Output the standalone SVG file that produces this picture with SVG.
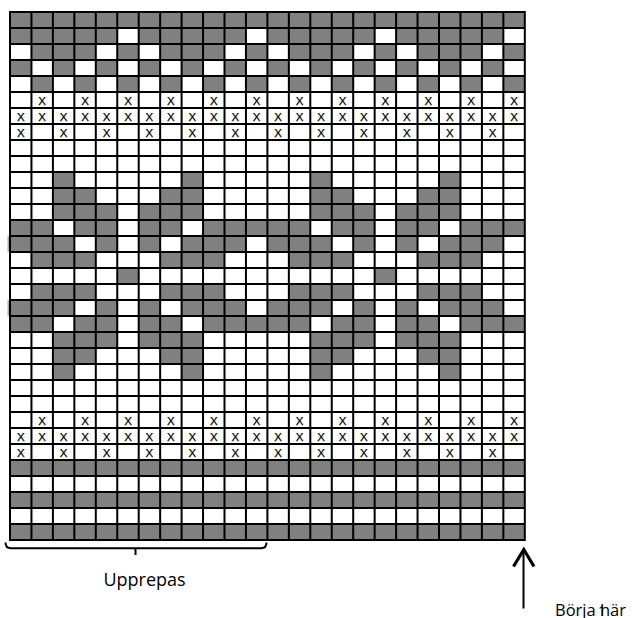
<svg xmlns="http://www.w3.org/2000/svg" width="633" height="618" viewBox="0 0 633 618">
<style>
.g{fill:#808080}
.grid{fill:none;stroke:#000;stroke-width:2}
.x{font-family:"Liberation Sans",Arial,sans-serif;font-size:11.5px;text-anchor:middle;fill:#000;stroke:#000;stroke-width:0.25}
.lbl{font-family:"Open Sans","Noto Sans",sans-serif;fill:#000}
.ln{fill:none;stroke:#000}
</style>
<rect width="633" height="618" fill="#fff"/>
<g id="chart">
<g id="cells" class="g" transform="matrix(21.45 0 0 16 10 12)">
<rect x="0" y="0" width="24" height="1"/>
<rect x="0" y="1" width="5" height="1"/><rect x="6" y="1" width="5" height="1"/><rect x="12" y="1" width="5" height="1"/><rect x="18" y="1" width="5" height="1"/>
<rect x="1" y="2" width="3" height="1"/><rect x="5" y="2" width="1" height="1"/><rect x="7" y="2" width="3" height="1"/><rect x="11" y="2" width="1" height="1"/><rect x="13" y="2" width="3" height="1"/><rect x="17" y="2" width="1" height="1"/><rect x="19" y="2" width="3" height="1"/><rect x="23" y="2" width="1" height="1"/>
<rect x="0" y="3" width="1" height="1"/><rect x="2" y="3" width="1" height="1"/><rect x="4" y="3" width="1" height="1"/><rect x="6" y="3" width="1" height="1"/><rect x="8" y="3" width="1" height="1"/><rect x="10" y="3" width="1" height="1"/><rect x="12" y="3" width="1" height="1"/><rect x="14" y="3" width="1" height="1"/><rect x="16" y="3" width="1" height="1"/><rect x="18" y="3" width="1" height="1"/><rect x="20" y="3" width="1" height="1"/><rect x="22" y="3" width="1" height="1"/>
<rect x="1" y="4" width="1" height="1"/><rect x="3" y="4" width="1" height="1"/><rect x="5" y="4" width="1" height="1"/><rect x="7" y="4" width="1" height="1"/><rect x="9" y="4" width="1" height="1"/><rect x="11" y="4" width="1" height="1"/><rect x="13" y="4" width="1" height="1"/><rect x="15" y="4" width="1" height="1"/><rect x="17" y="4" width="1" height="1"/><rect x="19" y="4" width="1" height="1"/><rect x="21" y="4" width="1" height="1"/><rect x="23" y="4" width="1" height="1"/>
<rect x="2" y="10" width="1" height="1"/><rect x="8" y="10" width="1" height="1"/><rect x="14" y="10" width="1" height="1"/><rect x="20" y="10" width="1" height="1"/>
<rect x="2" y="11" width="2" height="1"/><rect x="7" y="11" width="2" height="1"/><rect x="14" y="11" width="2" height="1"/><rect x="19" y="11" width="2" height="1"/>
<rect x="2" y="12" width="3" height="1"/><rect x="6" y="12" width="3" height="1"/><rect x="14" y="12" width="3" height="1"/><rect x="18" y="12" width="3" height="1"/>
<rect x="0" y="13" width="2" height="1"/><rect x="3" y="13" width="2" height="1"/><rect x="6" y="13" width="2" height="1"/><rect x="9" y="13" width="5" height="1"/><rect x="15" y="13" width="2" height="1"/><rect x="18" y="13" width="2" height="1"/><rect x="21" y="13" width="3" height="1"/>
<rect x="0" y="14" width="3" height="1"/><rect x="4" y="14" width="1" height="1"/><rect x="6" y="14" width="1" height="1"/><rect x="8" y="14" width="3" height="1"/><rect x="12" y="14" width="3" height="1"/><rect x="16" y="14" width="1" height="1"/><rect x="18" y="14" width="1" height="1"/><rect x="20" y="14" width="3" height="1"/>
<rect x="1" y="15" width="3" height="1"/><rect x="7" y="15" width="3" height="1"/><rect x="13" y="15" width="3" height="1"/><rect x="19" y="15" width="3" height="1"/>
<rect x="5" y="16" width="1" height="1"/><rect x="17" y="16" width="1" height="1"/>
<rect x="1" y="17" width="3" height="1"/><rect x="7" y="17" width="3" height="1"/><rect x="13" y="17" width="3" height="1"/><rect x="19" y="17" width="3" height="1"/>
<rect x="0" y="18" width="3" height="1"/><rect x="4" y="18" width="1" height="1"/><rect x="6" y="18" width="1" height="1"/><rect x="8" y="18" width="3" height="1"/><rect x="12" y="18" width="3" height="1"/><rect x="16" y="18" width="1" height="1"/><rect x="18" y="18" width="1" height="1"/><rect x="20" y="18" width="3" height="1"/>
<rect x="0" y="19" width="2" height="1"/><rect x="3" y="19" width="2" height="1"/><rect x="6" y="19" width="2" height="1"/><rect x="9" y="19" width="5" height="1"/><rect x="15" y="19" width="2" height="1"/><rect x="18" y="19" width="2" height="1"/><rect x="21" y="19" width="3" height="1"/>
<rect x="2" y="20" width="3" height="1"/><rect x="6" y="20" width="3" height="1"/><rect x="14" y="20" width="3" height="1"/><rect x="18" y="20" width="3" height="1"/>
<rect x="2" y="21" width="2" height="1"/><rect x="7" y="21" width="2" height="1"/><rect x="14" y="21" width="2" height="1"/><rect x="19" y="21" width="2" height="1"/>
<rect x="2" y="22" width="1" height="1"/><rect x="8" y="22" width="1" height="1"/><rect x="14" y="22" width="1" height="1"/><rect x="20" y="22" width="1" height="1"/>
<rect x="0" y="28" width="24" height="1"/>
<rect x="0" y="30" width="24" height="1"/>
<rect x="0" y="32" width="24" height="1"/>
</g>
<rect x="7.5" y="236" width="2.5" height="16" fill="#b0b0b0"/>
<rect x="7.5" y="300" width="2.5" height="16" fill="#b0b0b0"/>
<path id="gridlines" class="grid" d="M10 12V540M31.45 12V540M52.9 12V540M74.35 12V540M95.8 12V540M117.25 12V540M138.7 12V540M160.15 12V540M181.6 12V540M203.05 12V540M224.5 12V540M245.95 12V540M267.4 12V540M288.85 12V540M310.3 12V540M331.75 12V540M353.2 12V540M374.65 12V540M396.1 12V540M417.55 12V540M439 12V540M460.45 12V540M481.9 12V540M503.35 12V540M524.8 12V540M9 12H525.8M9 28H525.8M9 44H525.8M9 60H525.8M9 76H525.8M9 92H525.8M9 108H525.8M9 124H525.8M9 140H525.8M9 156H525.8M9 172H525.8M9 188H525.8M9 204H525.8M9 220H525.8M9 236H525.8M9 252H525.8M9 268H525.8M9 284H525.8M9 300H525.8M9 316H525.8M9 332H525.8M9 348H525.8M9 364H525.8M9 380H525.8M9 396H525.8M9 412H525.8M9 428H525.8M9 444H525.8M9 460H525.8M9 476H525.8M9 492H525.8M9 508H525.8M9 524H525.8M9 540H525.8"/>
<g id="marks" class="x">
<text x="42.18 85.08 127.98 170.88 213.78 256.68 299.58 342.48 385.38 428.28 471.18 514.08" y="104.5">XXXXXXXXXXXX</text>
<text x="20.73 42.18 63.63 85.08 106.53 127.98 149.43 170.88 192.33 213.78 235.23 256.68 278.13 299.58 321.03 342.48 363.93 385.38 406.83 428.28 449.73 471.18 492.63 514.08" y="120.5">XXXXXXXXXXXXXXXXXXXXXXXX</text>
<text x="20.73 63.63 106.53 149.43 192.33 235.23 278.13 321.03 363.93 406.83 449.73 492.63" y="136.5">XXXXXXXXXXXX</text>
<text x="42.18 85.08 127.98 170.88 213.78 256.68 299.58 342.48 385.38 428.28 471.18 514.08" y="424.5">XXXXXXXXXXXX</text>
<text x="20.73 42.18 63.63 85.08 106.53 127.98 149.43 170.88 192.33 213.78 235.23 256.68 278.13 299.58 321.03 342.48 363.93 385.38 406.83 428.28 449.73 471.18 492.63 514.08" y="440.5">XXXXXXXXXXXXXXXXXXXXXXXX</text>
<text x="20.73 63.63 106.53 149.43 192.33 235.23 278.13 321.03 363.93 406.83 449.73 492.63" y="456.5">XXXXXXXXXXXX</text>
</g>
</g>
<g id="repeat">
<path class="ln" stroke-width="2" d="M5.5 542.5Q5.5 548.3 11 548.3H261Q266.5 548.3 266.5 542.5M135.5 548.3V555"/>
<text class="lbl" x="144.5" y="586" font-size="18" text-anchor="middle">Upprepas</text>
</g>
<g id="start">
<path class="ln" stroke-width="2" d="M523.5 608.5V551"/>
<path class="ln" stroke-width="3.2" stroke-linejoin="miter" d="M513.5 566.5L523.8 549.5L534 566.5"/>
<text class="lbl" x="555" y="615.5" font-size="16.5">Börja här</text>
<text class="lbl" x="598" y="615.5" font-size="14">1</text>
</g>
</svg>
